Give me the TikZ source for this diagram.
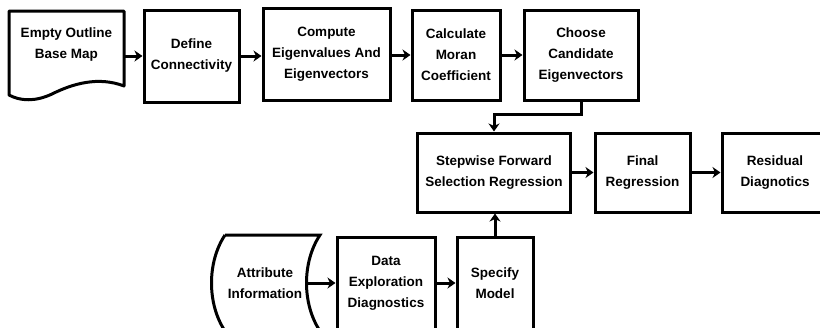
\documentclass[tikz,border=0pt]{standalone}
\usepackage{fontspec}
\setmainfont{Liberation Sans}
\usepackage{tikz}
\usetikzlibrary{arrows.meta}
\tikzset{
  proc/.style={draw, line width=3pt, align=center, inner sep=0pt, font=\bfseries\fontsize{13.5}{21}\selectfont},
  txt/.style={align=center, inner sep=0pt, font=\bfseries\fontsize{13.5}{21}\selectfont},
  arr/.style={line width=3pt, -{Stealth[length=8pt,width=11pt,inset=2.5pt]}}
}

\begin{document}
\begin{tikzpicture}[x=1pt, y=-1pt]
        \useasboundingbox (0,0) rectangle (820,327);
        \clip (0,0) rectangle (820,327);

        % row1
        \draw[line width=3pt, line join=round] (9,11) -- (124,11) -- (124,86)
            .. controls (98,76) and (72,84) .. (52,94)
            .. controls (35,102) and (20,101) .. (9,95) -- cycle;
        \node[txt, minimum width=115] (map) at (66.5,45) {Empty Outline\\Base Map};

        \node[proc, minimum width=95, minimum height=92] (def) at (191.5,56) {Define\\Connectivity};
        \node[proc, minimum width=127, minimum height=92] (eig) at (326.5,54) {Compute\\Eigenvalues And\\Eigenvectors};
        \node[proc, minimum width=88, minimum height=90] (moran) at (456,55) {Calculate\\Moran\\Coefficient};
        \node[proc, minimum width=114, minimum height=90] (cand) at (581,55) {Choose\\Candidate\\Eigenvectors};

        \draw[arr] (map.east |- def.west) -- (def.west);
        \draw[arr] (def.east) -- (def.east -| eig.west);
        \draw[arr] (eig.east |- moran.west) -- (moran.west);
        \draw[arr] (moran.east) -- (cand.west);

        % row2
        \node[proc, minimum width=153, minimum height=79] (step) at (494,172.5) {Stepwise Forward\\Selection Regression};
        \node[proc, minimum width=95, minimum height=79] (final) at (642.5,172.5) {Final\\Regression};
        \node[proc, minimum width=106, minimum height=79] (resid) at (775,172.5) {Residual\\Diagnotics};

        \draw[arr] (cand.south) -- ++(0,13) -| (step.north);
        \draw[arr] (step.east) -- (final.west);
        \draw[arr] (final.east) -- (resid.west);

        % row3
        \draw[line width=3pt] (225,235) -- (320,235)
            .. controls (302,262) and (302,304) .. (320,331);
        \draw[line width=3pt] (225,235)
            .. controls (207,262) and (207,304) .. (225,331);
        \node[txt, minimum width=84] (attr) at (265,283) {Attribute\\Information};

        \node[proc, minimum width=98, minimum height=92] (data) at (386,283) {Data\\Exploration\\Diagnostics};
        \node[proc, minimum width=76, minimum height=92] (spec) at (495,283) {Specify\\Model};

        \draw[arr] (attr.east) -- (data.west);
        \draw[arr] (data.east) -- (spec.west);
        \draw[arr] (spec.north) -- (spec.north |- step.south);

    \end{tikzpicture}
\end{document}
